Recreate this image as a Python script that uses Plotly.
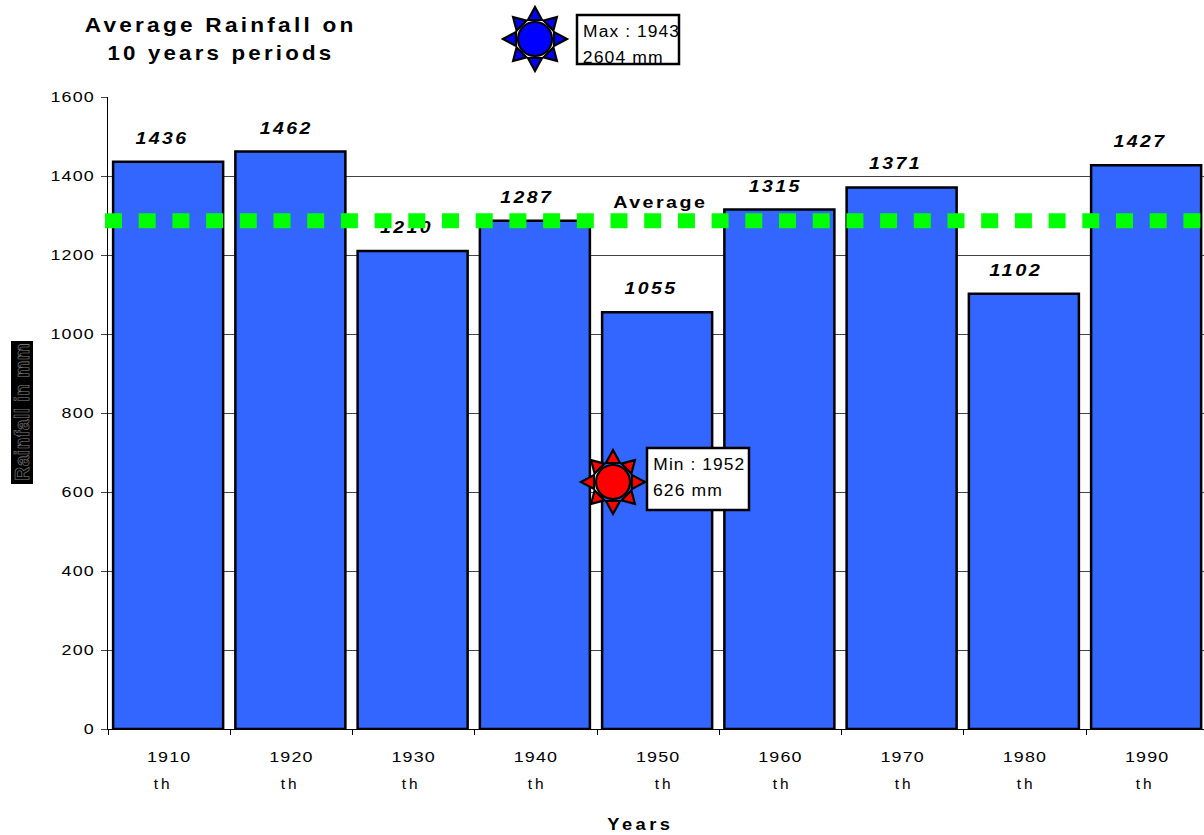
import math
import plotly.graph_objects as go

# Decade averages, in mm
decades = [1910, 1920, 1930, 1940, 1950, 1960, 1970, 1980, 1990]
rainfall = [1436, 1462, 1210, 1287, 1055, 1315, 1371, 1102, 1427]
decade_suffix = "th"
y_ticks = [0, 200, 400, 600, 800, 1000, 1200, 1400, 1600]
average_rainfall = 1287

title_lines = ["Average Rainfall on", "10 years periods"]
max_note = ["Max : 1943", "2604 mm"]
min_note = ["Min : 1952", "626 mm"]

# Small horizontal nudges, in pixels, for the value labels and suffixes
label_nudge = [-7, -5, -7, -9, -7, -5, -7, -9, -7]
suffix_nudge = [-6, -1, -2, 2, 6, 2, 2, 2, -2]

FONT = "Liberation Sans"
BAR_BLUE = "#3366ff"
GREEN = "#00ff00"

W, H = 1204, 835
LEFT, TOP, BOTTOM = 108, 97, 729
PW, PH = W - LEFT, BOTTOM - TOP


def px(x):
    return (x - LEFT) / PW


def py(y):
    return (BOTTOM - y) / PH


YEARS_PER_PIXEL = 10 / 122.25
Y_UNITS_PER_PIXEL = 1600 / PH
x_range = [1905, 1905 + PW * YEARS_PER_PIXEL]
label_x = [d + n * YEARS_PER_PIXEL for d, n in zip(decades, label_nudge)]
label_y = [v + 22 * Y_UNITS_PER_PIXEL for v in rainfall]

BAR_WIDTH = 9.0
fig = go.Figure()
fig.add_bar(
    x=decades, y=rainfall, width=BAR_WIDTH, offset=-BAR_WIDTH / 2 - YEARS_PER_PIXEL,
    marker=dict(color=BAR_BLUE, line=dict(color="black", width=2.5)),
    showlegend=False, hoverinfo="skip",
)
# Value labels stay in a trace so the dashed average line passes over them
fig.add_scatter(
    x=label_x, y=label_y, mode="text",
    text=[f"<b><i>{v}</i></b>" for v in rainfall],
    textposition="middle center",
    textfont=dict(family=FONT, size=16, color="black"),
    showlegend=False, hoverinfo="skip", cliponaxis=False,
)

shapes = []


def pixel_rect(x0, y0, x1, y1, fill, line="black", lw=2.5):
    shapes.append(dict(
        type="rect", xref="paper", yref="paper", layer="above",
        x0=px(x0), x1=px(x1), y0=py(y0), y1=py(y1),
        fillcolor=fill, line=dict(color=line, width=lw),
    ))


def sun(cx, cy, fill):
    """Eight outward triangles around a disc, centred on a pixel position."""
    for k in range(8):
        a = k * math.pi / 4
        ux, uy = math.cos(a), math.sin(a)
        vx, vy = -uy, ux
        tip, base, half = (32, 19, 7) if k % 2 == 0 else (31, 19, 7)
        pts = [
            (cx + ux * tip, cy + uy * tip),
            (cx + ux * base + vx * half, cy + uy * base + vy * half),
            (cx + ux * base - vx * half, cy + uy * base - vy * half),
        ]
        path = "M" + " L".join(f"{px(a_):.5f},{py(b_):.5f}" for a_, b_ in pts) + " Z"
        shapes.append(dict(
            type="path", xref="paper", yref="paper", layer="above", path=path,
            fillcolor=fill, line=dict(color="black", width=2.2),
        ))
    shapes.append(dict(
        type="circle", xref="paper", yref="paper", layer="above",
        x0=px(cx - 17), x1=px(cx + 17), y0=py(cy + 17), y1=py(cy - 17),
        fillcolor=fill, line=dict(color="black", width=2.2),
    ))


# Dashed average line, running slightly past the left axis
shapes.append(dict(
    type="line", xref="paper", yref="y", layer="above",
    x0=px(105), x1=1, y0=average_rainfall, y1=average_rainfall,
    line=dict(color=GREEN, width=15, dash="17px,16.7px"),
))

sun(535, 39, "#0000ff")
pixel_rect(577, 15, 679, 64, "white")
sun(613, 482, "#ff0000")
pixel_rect(647, 448, 749, 510, "white")
pixel_rect(11, 341, 33, 484, "black", line="black", lw=0)

annotations = []


def note(text, x, y, size=16, angle=0):
    annotations.append(dict(
        text=text, xref="paper", yref="paper", x=px(x), y=py(y),
        xanchor="center", yanchor="middle", showarrow=False, textangle=angle,
        font=dict(family=FONT, size=size, color="black"),
    ))


note(f"<b>{title_lines[0]}</b>", 220, 24, size=21)
note(f"<b>{title_lines[1]}</b>", 221, 52, size=21)
note("<b>Average</b>", 660, 202)
note("<b>Years</b>", 640.5, 824)
note("<b>Rainfall in mm</b>", 22, 412, size=20, angle=-90)
note(max_note[0], 631, 32)
note(max_note[1], 623, 57)
note(min_note[0], 699, 464)
note(min_note[1], 688, 490)

for d, shift in zip(decades, suffix_nudge):
    annotations.append(dict(
        text=decade_suffix, xref="x", yref="paper", x=d, xshift=shift,
        y=py(783.5), xanchor="center", yanchor="middle", showarrow=False,
        font=dict(family=FONT, size=15, color="black"),
    ))

fig.update_layout(
    width=W, height=H, autosize=False,
    margin=dict(l=LEFT, r=0, t=TOP, b=H - BOTTOM, pad=0),
    paper_bgcolor="white", plot_bgcolor="white",
    showlegend=False, shapes=shapes, annotations=annotations,
    font=dict(family=FONT, color="black"),
    xaxis=dict(
        range=x_range, tickmode="array", tickvals=decades,
        ticktext=[str(d) for d in decades], ticks="", showgrid=False,
        tickfont=dict(family=FONT, size=15.5), ticklabelstandoff=13,
        showline=True, linecolor="black", linewidth=1, zeroline=False,
        minor=dict(
            tickmode="array", tickvals=[1905 + 10 * k for k in range(10)],
            ticks="outside", ticklen=5, tickwidth=1, tickcolor="black", showgrid=False,
        ),
    ),
    yaxis=dict(
        range=[0, 1600], tickmode="array", tickvals=y_ticks,
        ticks="outside", ticklen=6, tickwidth=1, tickcolor="#444",
        tickfont=dict(family=FONT, size=15.5), ticklabelstandoff=3,
        showgrid=True, gridcolor="#444", gridwidth=1,
        showline=True, linecolor="black", linewidth=1, zeroline=False,
    ),
)

# SVG text styling that layout attributes do not reach: wide lettering, set as
# letter spacing plus a fitted text length, and the outlined axis caption.
post_script = """
var root = document.querySelector('.js-plotly-plot');
var fitted = {
  'Average Rainfall on': [3, 272],
  '10 years periods': [3, 227],
  'Average': [2, 94],
  'Years': [3, 66],
  'th': [3, 19],
  'Max : 1943': [1, 97],
  '2604 mm': [1, 81],
  'Min : 1952': [1, 92],
  '626 mm': [1, 70],
  'Rainfall in mm': [0.5, 138]
};
root.querySelectorAll('svg text').forEach(function (t) {
  var s = t.textContent.trim();
  var rule = fitted[s];
  if (!rule && /^[0-9]+$/.test(s)) {
    if (t.closest('.textpoint')) rule = [2, 53];
    else rule = [1, s.length * 11.1];
  }
  if (s === 'Rainfall in mm') {
    t.style.setProperty('fill', '#000', 'important');
    t.style.setProperty('stroke', '#8a8a8a');
    t.style.setProperty('stroke-width', '0.6px');
  }
  if (rule) {
    t.style.letterSpacing = rule[0] + 'px';
    t.setAttribute('textLength', rule[1]);
    t.setAttribute('lengthAdjust', 'spacingAndGlyphs');
  }
});
"""

fig.write_html("out.html", post_script=post_script, config=dict(displayModeBar=False))
